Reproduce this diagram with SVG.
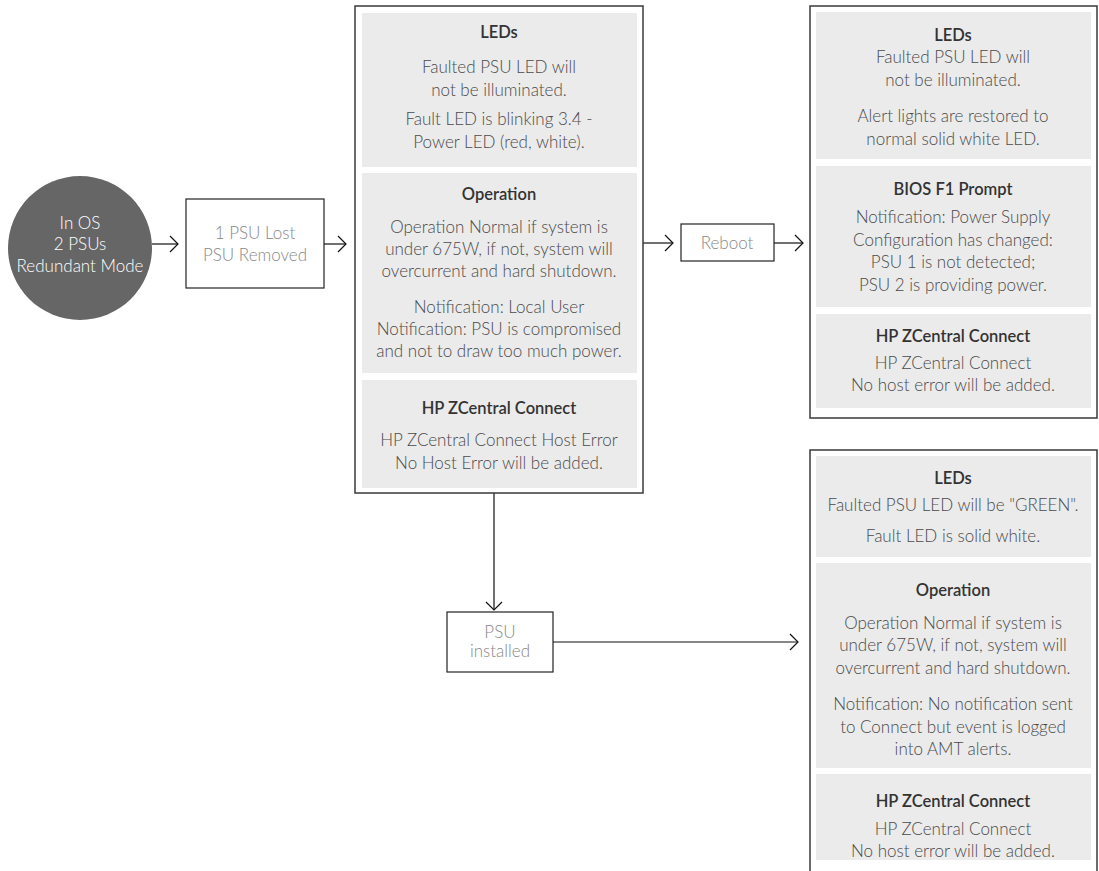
<svg xmlns="http://www.w3.org/2000/svg" width="1099" height="871" viewBox="0 0 1099 871">
<defs>
<marker id="arr" markerUnits="userSpaceOnUse" markerWidth="12" markerHeight="20" viewBox="0 0 12 20" refX="10" refY="10" orient="auto">
<path d="M2,2 L10,10 L2,18" fill="none" stroke="#111" stroke-width="1.2"/>
</marker>
<style>
.frame{fill:#fff;stroke:#3a3a3a;stroke-width:1.5}
.panel{fill:#ebebeb}
.sbox{fill:#fff;stroke:#222;stroke-width:1.2}
text{font-family:Lato,"Liberation Sans",sans-serif;text-anchor:middle}
.t{font-size:16.5px;font-weight:600;fill:#333}
.b{font-size:17px;font-weight:300;fill:#4a4a4a}
.g{font-size:17px;font-weight:300;fill:#888}
.w{font-size:17px;font-weight:300;fill:#fff}
.conn{fill:none;stroke:#111;stroke-width:1.2;marker-end:url(#arr)}
</style>
</defs>
<g id="connectors">
<path class="conn" d="M152,244 L178,244"/>
<path class="conn" d="M324,244 L346,244"/>
<path class="conn" d="M643,243 L673,243"/>
<path class="conn" d="M774,243 L803,243"/>
<path class="conn" d="M494,493 L494,610"/>
<path class="conn" d="M553,642 L798,642"/>
</g>
<g id="start">
<circle cx="80" cy="248" r="72" fill="#666"/>
<text class="w" x="80" y="229">In OS</text>
<text class="w" x="80" y="250">2 PSUs</text>
<text class="w" x="80" y="272">Redundant Mode</text>
</g>
<g id="psu-lost">
<rect class="sbox" x="186" y="199" width="138" height="89"/>
<text class="g" x="255" y="239">1 PSU Lost</text>
<text class="g" x="255" y="261">PSU Removed</text>
</g>
<g id="state-lost">
<rect class="frame" x="355" y="6" width="288" height="487"/>
<rect class="panel" x="362" y="13" width="275" height="154"/>
<rect class="panel" x="362" y="173" width="275" height="200"/>
<rect class="panel" x="362" y="380" width="275" height="108"/>
<text class="t" x="499" y="38">LEDs</text>
<text class="b" x="499" y="73">Faulted PSU LED will</text>
<text class="b" x="499" y="96">not be illuminated.</text>
<text class="b" x="499" y="125">Fault LED is blinking 3.4 -</text>
<text class="b" x="499" y="148">Power LED (red, white).</text>
<text class="t" x="499" y="200">Operation</text>
<text class="b" x="499" y="233">Operation Normal if system is</text>
<text class="b" x="499" y="255">under 675W, if not, system will</text>
<text class="b" x="499" y="277">overcurrent and hard shutdown.</text>
<text class="b" x="499" y="313">Notification: Local User</text>
<text class="b" x="499" y="335">Notification: PSU is compromised</text>
<text class="b" x="499" y="357">and not to draw too much power.</text>
<text class="t" x="499" y="414">HP ZCentral Connect</text>
<text class="b" x="499" y="446">HP ZCentral Connect Host Error</text>
<text class="b" x="499" y="469">No Host Error will be added.</text>
</g>
<g id="reboot">
<rect class="sbox" x="681" y="224" width="93" height="37"/>
<text class="g" x="727" y="249">Reboot</text>
</g>
<g id="state-reboot">
<rect class="frame" x="810" y="6" width="287" height="412"/>
<rect class="panel" x="816" y="12" width="275" height="147"/>
<rect class="panel" x="816" y="166" width="275" height="141"/>
<rect class="panel" x="816" y="314" width="275" height="94"/>
<text class="t" x="953" y="41">LEDs</text>
<text class="b" x="953" y="63">Faulted PSU LED will</text>
<text class="b" x="953" y="86">not be illuminated.</text>
<text class="b" x="953" y="122">Alert lights are restored to</text>
<text class="b" x="953" y="145">normal solid white LED.</text>
<text class="t" x="953" y="195">BIOS F1 Prompt</text>
<text class="b" x="953" y="223">Notification: Power Supply</text>
<text class="b" x="953" y="246">Configuration has changed:</text>
<text class="b" x="953" y="268">PSU 1 is not detected;</text>
<text class="b" x="953" y="291">PSU 2 is providing power.</text>
<text class="t" x="953" y="342">HP ZCentral Connect</text>
<text class="b" x="953" y="369">HP ZCentral Connect</text>
<text class="b" x="953" y="391">No host error will be added.</text>
</g>
<g id="psu-installed">
<rect class="sbox" x="447" y="612" width="106" height="60"/>
<text class="g" x="500" y="638">PSU</text>
<text class="g" x="500" y="657">installed</text>
</g>
<g id="state-installed">
<rect class="frame" x="810" y="450" width="287" height="430"/>
<rect class="panel" x="816" y="456" width="275" height="101"/>
<rect class="panel" x="816" y="563" width="275" height="205"/>
<rect class="panel" x="816" y="774" width="275" height="86"/>
<text class="t" x="953" y="484">LEDs</text>
<text class="b" x="953" y="511">Faulted PSU LED will be "GREEN".</text>
<text class="b" x="953" y="542">Fault LED is solid white.</text>
<text class="t" x="953" y="596">Operation</text>
<text class="b" x="953" y="629">Operation Normal if system is</text>
<text class="b" x="953" y="651">under 675W, if not, system will</text>
<text class="b" x="953" y="674">overcurrent and hard shutdown.</text>
<text class="b" x="953" y="710">Notification: No notification sent</text>
<text class="b" x="953" y="733">to Connect but event is logged</text>
<text class="b" x="953" y="755">into AMT alerts.</text>
<text class="t" x="953" y="807">HP ZCentral Connect</text>
<text class="b" x="953" y="835">HP ZCentral Connect</text>
<text class="b" x="953" y="857">No host error will be added.</text>
</g>
</svg>
